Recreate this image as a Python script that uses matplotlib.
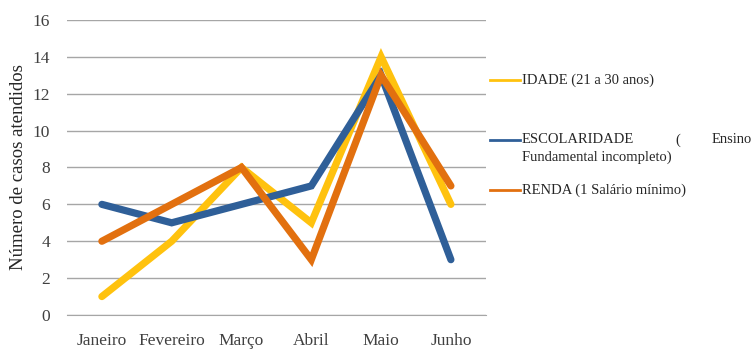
import matplotlib
matplotlib.use("Agg")
import matplotlib.pyplot as plt
from matplotlib.lines import Line2D

meses = ["Janeiro", "Fevereiro", "Março", "Abril", "Maio", "Junho"]
idade = [1, 4, 8, 5, 14, 6]
escolaridade = [6, 5, 6, 7, 13, 3]
renda = [4, 6, 8, 3, 13, 7]

cores = ["#FFC20E", "#2F5F98", "#E2700F"]

plt.rcParams["font.family"] = ["Liberation Serif", "DejaVu Serif"]

fig = plt.figure(figsize=(7.56, 3.55), dpi=100)
ax = fig.add_axes([0.0886, 0.1127, 0.554, 0.831])

x = range(len(meses))
for serie, cor in zip([idade, escolaridade, renda], cores):
    ax.plot(x, serie, color=cor, lw=5.2, solid_capstyle="round",
            solid_joinstyle="miter", zorder=3)

ax.set_xlim(-0.5, len(meses) - 0.5)
ax.set_ylim(0, 16)
ax.set_yticks(range(0, 17, 2))
ax.set_xticks(list(x))
ax.set_xticklabels(meses)
ax.yaxis.grid(True, color="#A6A6A6", lw=1)
ax.set_axisbelow(True)
for lado in ["left", "right", "top"]:
    ax.spines[lado].set_visible(False)
ax.spines["bottom"].set_color("#A6A6A6")
ax.tick_params(axis="both", length=0, labelsize=12.5, colors="#404040")
ax.tick_params(axis="x", pad=13)
ax.tick_params(axis="y", pad=12)
ax.set_ylabel("Número de casos atendidos", fontsize=13.5, color="#262626",
              labelpad=4)

# legenda desenhada à mão: o texto da segunda entrada é justificado em duas linhas
def entrada(y, cor):
    fig.add_artist(Line2D([0.648, 0.688], [y, y], color=cor, lw=2,
                          transform=fig.transFigure))

def texto(xf, y, s, ha="left"):
    fig.text(xf, y, s, fontsize=10.5, color="#262626", ha=ha, va="center")

y1, y2, y2b, y3 = 1 - 80 / 355, 1 - 140 / 355, 1 - 157 / 355, 1 - 190 / 355
entrada(y1, cores[0])
texto(0.690, y1, "IDADE (21 a 30 anos)")
entrada(y2, cores[1])
texto(0.690, y2, "ESCOLARIDADE")
texto(0.894, y2, "(")
texto(0.995, y2, "Ensino", ha="right")
texto(0.690, y2b, "Fundamental incompleto)")
entrada(y3, cores[2])
texto(0.690, y3, "RENDA (1 Salário mínimo)")

fig.savefig("out.png", dpi=100)
